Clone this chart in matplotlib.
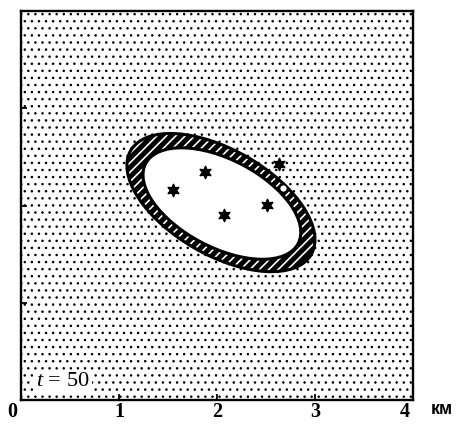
import numpy as np
import matplotlib
matplotlib.use("Agg")
import matplotlib.pyplot as plt
from matplotlib.patches import Ellipse, Rectangle
from matplotlib.transforms import ScaledTranslation

# --- data (km) ---
tick_values = [0, 1, 2, 3, 4]
tick_labels = ["0", "1", "2", "3", "4"]
ytick_values = [1, 2, 3]

# elliptical zone: centre, outer/inner semi-axes, tilt (deg)
zone_center = (2.04, 2.03)
outer_axes = (1.065, 0.54)
outer_angle = -30.2
inner_center = (2.05, 2.02)
inner_axes = (0.88, 0.45)
inner_angle = -28.0

# sources (stars) and one open marker
star_x = [1.55, 1.88, 2.07, 2.51, 2.63]
star_y = [2.16, 2.34, 1.90, 2.01, 2.43]
open_x = [2.67]
open_y = [2.18]

time_label = "50"
unit_label = "км"

DPI = 85
plt.rcParams["font.family"] = ["Liberation Serif", "DejaVu Serif"]
plt.rcParams["mathtext.fontset"] = "custom"
plt.rcParams["mathtext.it"] = "Liberation Serif:italic"
plt.rcParams["mathtext.rm"] = "Liberation Serif"

fig = plt.figure(figsize=(457 / DPI, 427 / DPI), dpi=DPI)
ax = fig.add_axes([21 / 457, 27 / 427, 392 / 457, 389 / 427])
ax.set_xlim(0, 4)
ax.set_ylim(0, 4)


def hatch_lw(patch, lw):
    if hasattr(patch, "set_hatch_linewidth"):
        patch.set_hatch_linewidth(lw)
    return patch


# stippled background
with plt.rc_context({"hatch.linewidth": 0.9}):
    bg = Rectangle((0, 0), 4, 4, facecolor="white", edgecolor="black",
                   linewidth=0, hatch="..", zorder=0)
    hatch_lw(bg, 0.9)
    ax.add_patch(bg)

# hatched ring: black band with white diagonal stripes
with plt.rc_context({"hatch.linewidth": 1.4}):
    ring = Ellipse(zone_center, 2 * outer_axes[0], 2 * outer_axes[1], angle=outer_angle,
                   facecolor="black", edgecolor="white", linewidth=0, hatch="///", zorder=1)
    hatch_lw(ring, 1.4)
    ax.add_patch(ring)
ax.add_patch(Ellipse(zone_center, 2 * outer_axes[0], 2 * outer_axes[1], angle=outer_angle,
                     facecolor="none", edgecolor="black", linewidth=2.6, zorder=2))
ax.add_patch(Ellipse(inner_center, 2 * inner_axes[0], 2 * inner_axes[1], angle=inner_angle,
                     facecolor="white", edgecolor="black", linewidth=2.6, zorder=2))

ax.plot(star_x, star_y, linestyle="none", marker=(6, 1, 0), markersize=11,
        color="black", zorder=4)
ax.plot(open_x, open_y, linestyle="none", marker="o", markersize=6.5,
        markerfacecolor="white", markeredgecolor="black", markeredgewidth=1.2, zorder=4)

# time stamp in lower-left corner
ax.text(0.038, 0.036, r"$t$ = " + time_label, transform=ax.transAxes,
        fontsize=19, va="baseline", ha="left", zorder=5,
        bbox=dict(facecolor="white", edgecolor="none", pad=2.0))

# axes frame and ticks
for sp in ax.spines.values():
    sp.set_linewidth(2.0)
    sp.set_zorder(6)
ax.set_xticks(tick_values)
ax.set_xticklabels(tick_labels, fontsize=17, fontweight="bold")
ax.set_yticks(ytick_values)
ax.set_yticklabels([])
ax.tick_params(axis="x", direction="in", length=5, width=1.5, pad=1.5)
ax.tick_params(axis="y", direction="in", length=5, width=1.5)
labels = ax.get_xticklabels()
labels[0].set_transform(labels[0].get_transform() + ScaledTranslation(-9 / DPI, 0, fig.dpi_scale_trans))
labels[-1].set_transform(labels[-1].get_transform() + ScaledTranslation(-8 / DPI, 0, fig.dpi_scale_trans))

fig.text(431 / 457, 13 / 427, unit_label, fontsize=15, fontweight="bold",
         ha="left", va="baseline", family=["Liberation Sans", "DejaVu Sans"])

fig.savefig("out.png", dpi=DPI)
